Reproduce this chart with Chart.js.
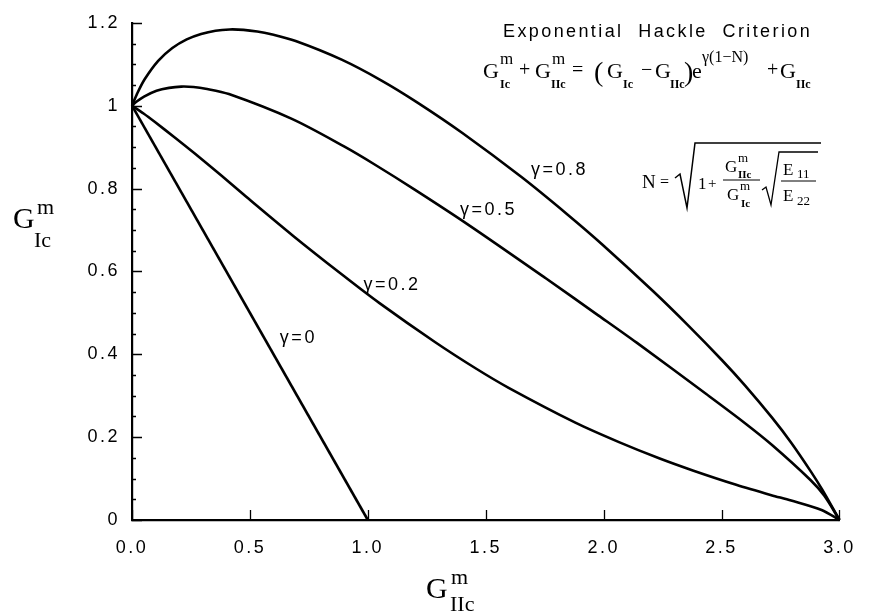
<!DOCTYPE html>
<html>
<head>
<meta charset="utf-8">
<script src="https://cdn.jsdelivr.net/npm/chart.js@4/dist/chart.umd.min.js"></script>
<style>
html,body{margin:0;padding:0;background:#fff;}
#wrap{width:869px;height:616px;position:relative;background:#fff;}
canvas{display:block;}
</style>
</head>
<body>
<div id="wrap"><canvas id="c" width="869" height="616"></canvas></div>
<script>
// ---- data (G_IIc on x, G_Ic on y) ----
const seriesNames = ['γ=0', 'γ=0.2', 'γ=0.5', 'γ=0.8'];

const gamma0X = [0, 1.0];
const gamma0Y = [1.0, 0];

const gamma02X = [0, 0.049, 0.096, 0.184, 0.265, 0.375, 0.472, 0.685, 0.889, 1.048, 1.286, 1.460, 1.597, 1.880, 2.065, 2.235, 2.381, 2.562, 2.711, 2.795, 2.924, 3.0];
const gamma02Y = [1.000, 0.981, 0.961, 0.922, 0.885, 0.833, 0.786, 0.685, 0.593, 0.524, 0.429, 0.365, 0.319, 0.235, 0.188, 0.149, 0.119, 0.085, 0.060, 0.047, 0.024, 0];

const gamma05X = [0, 0.020, 0.051, 0.104, 0.157, 0.209, 0.261, 0.312, 0.411, 0.678, 0.901, 1.029, 1.197, 1.425, 1.753, 1.977, 2.140, 2.435, 2.594, 2.714, 2.878, 2.935, 3.0];
const gamma05Y = [1.000, 1.010, 1.022, 1.036, 1.043, 1.046, 1.045, 1.041, 1.028, 0.968, 0.901, 0.858, 0.798, 0.713, 0.584, 0.494, 0.428, 0.304, 0.236, 0.181, 0.096, 0.059, 0];

const gamma08X = [0, 0.021, 0.053, 0.111, 0.171, 0.232, 0.293, 0.354, 0.414, 0.473, 0.531, 0.586, 0.694, 0.889, 1.060, 1.209, 1.401, 1.653, 1.845, 1.994, 2.210, 2.356, 2.503, 2.599, 2.714, 2.796, 2.881, 2.927, 3.0];
const gamma08Y = [1.000, 1.028, 1.063, 1.108, 1.139, 1.160, 1.173, 1.181, 1.184, 1.183, 1.179, 1.173, 1.156, 1.111, 1.060, 1.008, 0.934, 0.827, 0.738, 0.665, 0.552, 0.471, 0.385, 0.325, 0.247, 0.186, 0.115, 0.073, 0];

const xTickLabels = ['0.0', '0.5', '1.0', '1.5', '2.0', '2.5', '3.0'];
const yTickLabels = ['0', '0.2', '0.4', '0.6', '0.8', '1', '1.2'];

// ---- presentation ----
const SERIF = "'Liberation Serif','Times New Roman',serif";
const SANS = "'Liberation Sans',Arial,Helvetica,sans-serif";

// curve label anchors in data units (left / baseline of the text)
const curveLabelAnchors = [
  {x: 0.627, y: 0.427},
  {x: 0.982, y: 0.556},
  {x: 1.391, y: 0.735},
  {x: 1.692, y: 0.832}
];

function pts(xs, ys) { return xs.map((x, i) => ({x: x, y: ys[i]})); }

function ds(label, xs, ys, curved) {
  return {
    label: label,
    data: pts(xs, ys),
    showLine: true,
    borderColor: '#000',
    backgroundColor: '#000',
    borderWidth: 2.6,
    pointRadius: 0,
    fill: false,
    clip: false,
    tension: curved ? 0.3 : 0,
    cubicInterpolationMode: 'default'
  };
}

function txt(ctx, s, x, y, font, ls) {
  ctx.save();
  ctx.font = font;
  ctx.fillStyle = '#000';
  ctx.textAlign = 'left';
  ctx.textBaseline = 'alphabetic';
  ctx.letterSpacing = ls || '0px';
  ctx.fillText(s, x, y);
  ctx.restore();
}

function line(ctx, ptsArr, w) {
  ctx.save();
  ctx.strokeStyle = '#000';
  ctx.lineWidth = w;
  ctx.lineJoin = 'miter';
  ctx.beginPath();
  ptsArr.forEach((p, i) => i ? ctx.lineTo(p[0], p[1]) : ctx.moveTo(p[0], p[1]));
  ctx.stroke();
  ctx.restore();
}

const decorPlugin = {
  id: 'decor',
  beforeDraw(chart) {
    const ctx = chart.ctx;
    ctx.save();
    ctx.fillStyle = '#fff';
    ctx.fillRect(0, 0, chart.width, chart.height);
    ctx.restore();
    ctx.letterSpacing = '2.5px';
  },
  afterDraw(chart) {
    const ctx = chart.ctx;
    ctx.letterSpacing = '0px';
    const xs = chart.scales.x, ys = chart.scales.y;
    const left = chart.chartArea.left, bottom = chart.chartArea.bottom;

    // inward tick marks
    ctx.save();
    ctx.strokeStyle = '#000';
    ctx.lineWidth = 1.3;
    ctx.beginPath();
    for (let k = 0; k <= 24; k++) {
      const v = k * 0.05;
      const py = Math.round(ys.getPixelForValue(v)) + 0.5;
      const len = (k % 4 === 0) ? 10 : 4;
      ctx.moveTo(left, py); ctx.lineTo(left + len, py);
    }
    xs.ticks.forEach(t => {
      const px = Math.round(xs.getPixelForValue(t.value)) + 0.5;
      ctx.moveTo(px, bottom); ctx.lineTo(px, bottom - 10);
    });
    ctx.stroke();
    ctx.restore();

    // curve labels
    chart.data.datasets.forEach((d, i) => {
      const a = curveLabelAnchors[i];
      txt(ctx, d.label, xs.getPixelForValue(a.x), ys.getPixelForValue(a.y), '18px ' + SANS, '2.5px');
    });

    // axis titles
    txt(ctx, 'G', 13, 228, '30px ' + SERIF);
    txt(ctx, 'm', 37, 214, '22px ' + SERIF);
    txt(ctx, 'Ic', 34, 247, '22px ' + SERIF);

    txt(ctx, 'G', 426, 598, '30px ' + SERIF);
    txt(ctx, 'm', 451, 584, '22px ' + SERIF);
    txt(ctx, 'IIc', 450, 611, '22px ' + SERIF);

    // title
    txt(ctx, 'Exponential  Hackle  Criterion', 503, 37, '18px ' + SANS, '2.4px');

    // criterion formula
    const G = '22px ' + SERIF, SUP = '17px ' + SERIF, SUB = 'bold 12px ' + SERIF, OP = '20px ' + SERIF, PAR = '28px ' + SERIF;
    txt(ctx, 'G', 483, 78, G); txt(ctx, 'm', 500, 64, SUP); txt(ctx, 'Ic', 500, 88, SUB);
    txt(ctx, '+', 519, 76, OP);
    txt(ctx, 'G', 535, 78, G); txt(ctx, 'm', 552, 64, SUP); txt(ctx, 'IIc', 551, 88, SUB);
    txt(ctx, '=', 572, 76, OP);
    txt(ctx, '(', 594, 81, PAR);
    txt(ctx, 'G', 607, 78, G); txt(ctx, 'Ic', 623, 88, SUB);
    txt(ctx, '−', 641, 76, OP);
    txt(ctx, 'G', 655, 78, G); txt(ctx, 'IIc', 670, 88, SUB);
    txt(ctx, ')', 684, 81, PAR);
    txt(ctx, 'e', 692, 78, G);
    txt(ctx, 'γ(1−N)', 702, 62, '16px ' + SERIF);
    txt(ctx, '+', 767, 76, OP);
    txt(ctx, 'G', 780, 78, G); txt(ctx, 'IIc', 796, 88, SUB);

    // N definition
    const F = '19px ' + SERIF, FS = '13px ' + SERIF, FB = 'bold 11px ' + SERIF;
    txt(ctx, 'N', 642, 188, F);
    txt(ctx, '=', 660, 187, '16px ' + SERIF);
    line(ctx, [[675, 178], [680, 174], [687, 208], [695, 143], [821, 143]], 1.5);
    txt(ctx, '1', 698, 189, '17px ' + SERIF);
    txt(ctx, '+', 708, 188, '15px ' + SERIF);
    txt(ctx, 'G', 725, 172, '17px ' + SERIF); txt(ctx, 'm', 738, 162, FS); txt(ctx, 'IIc', 738, 178, FB);
    line(ctx, [[723, 180], [760, 180]], 1);
    txt(ctx, 'G', 727, 200, '17px ' + SERIF); txt(ctx, 'm', 740, 190, FS); txt(ctx, 'Ic', 741, 207, FB);
    line(ctx, [[762, 190], [766, 187], [771, 205], [779, 152], [818, 152]], 1.3);
    txt(ctx, 'E', 783, 175, '17px ' + SERIF); txt(ctx, '11', 797, 178, '13px ' + SERIF);
    line(ctx, [[781, 181], [816, 181]], 1);
    txt(ctx, 'E', 783, 201, '17px ' + SERIF); txt(ctx, '22', 797, 205, '13px ' + SERIF);
  }
};

const chart = new Chart(document.getElementById('c'), {
  type: 'scatter',
  data: {
    datasets: [
      ds(seriesNames[0], gamma0X, gamma0Y, false),
      ds(seriesNames[1], gamma02X, gamma02Y, true),
      ds(seriesNames[2], gamma05X, gamma05Y, true),
      ds(seriesNames[3], gamma08X, gamma08Y, true)
    ]
  },
  options: {
    responsive: false,
    animation: false,
    devicePixelRatio: 1,
    layout: {padding: {top: 11, right: 19, left: 0, bottom: 0}},
    plugins: {legend: {display: false}, tooltip: {enabled: false}, title: {display: false}},
    scales: {
      x: {
        type: 'linear', min: 0, max: 3,
        grid: {display: false, drawTicks: false},
        border: {display: true, color: '#000', width: 2.2},
        ticks: {
          stepSize: 0.5, color: '#000', padding: 17,
          font: {family: SANS, size: 18},
          maxRotation: 0,
          callback: (v, i) => xTickLabels[i]
        },
        afterFit: s => { s.height = 96; }
      },
      y: {
        type: 'linear', min: 0, max: 1.2,
        grid: {display: false, drawTicks: false},
        border: {display: true, color: '#000', width: 2.2},
        ticks: {
          stepSize: 0.2, color: '#000', padding: 12,
          font: {family: SANS, size: 18},
          callback: (v, i) => yTickLabels[i]
        },
        afterFit: s => { s.width = 132; }
      }
    }
  },
  plugins: [decorPlugin]
});
</script>
</body>
</html>
